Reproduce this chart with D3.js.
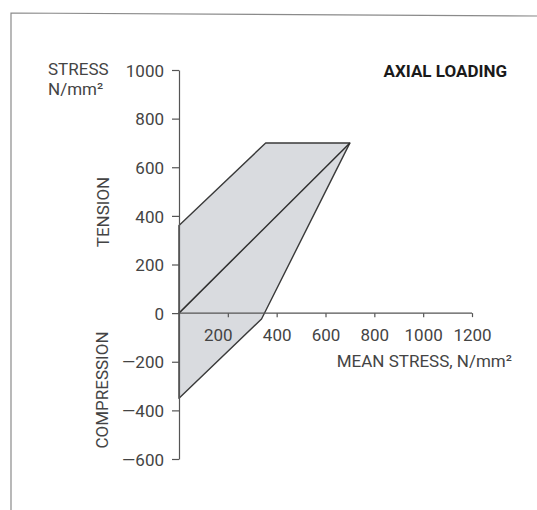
<!DOCTYPE html>
<html>
<head>
<meta charset="utf-8">
<script src="https://cdn.jsdelivr.net/npm/d3@7/dist/d3.min.js"></script>
<style>
  html, body { margin: 0; padding: 0; background: #fff; }
  svg { display: block; }
  text { font-family: Roboto, 'Liberation Sans', sans-serif; fill: #444; }
</style>
</head>
<body>
<svg id="chart" width="537" height="510"></svg>
<script>
// ---- data ----
const xTicks = [200, 400, 600, 800, 1000, 1200];
const yTicks = [1000, 800, 600, 400, 200, 0, -200, -400, -600];
// envelope of safe stress range (mean stress, stress)
const envelopeMean   = [0, 355, 700, 338, 0];
const envelopeStress = [360, 700, 700, -24, -350];
// mean stress line
const meanLineX = [0, 700];
const meanLineY = [0, 700];

const svg = d3.select("#chart");
const FONT = "Roboto, 'Liberation Sans', sans-serif";

// frame
svg.append("path")
  .attr("d", "M11,510 L11,13 L537,16")
  .attr("fill", "none").attr("stroke", "#8a8a8a").attr("stroke-width", 1.2);

const x = d3.scaleLinear().domain([0, 1200]).range([179, 472]);
const y = d3.scaleLinear().domain([-600, 1000]).range([459, 70]);

// envelope polygon
const pts = envelopeMean.map((m, i) => [x(m), y(envelopeStress[i])]);
svg.append("path")
  .attr("d", d3.line()(pts) + "Z")
  .attr("fill", "#d9dbdf")
  .attr("stroke", "#3a3a3a")
  .attr("stroke-width", 1.4)
  .attr("stroke-linejoin", "round");

// mean line
svg.append("path")
  .attr("d", d3.line()(meanLineX.map((m, i) => [x(m), y(meanLineY[i])])))
  .attr("stroke", "#2e2e2e").attr("stroke-width", 1.5).attr("fill", "none");

// y axis
const fmtY = v => v < 0 ? "\u2014" + Math.abs(v) : String(v);
const yAxis = svg.append("g")
  .attr("transform", `translate(${x(0)},0)`)
  .call(d3.axisLeft(y).tickValues(yTicks).tickSize(7).tickSizeOuter(0).tickPadding(8).tickFormat(fmtY));
yAxis.selectAll("path, line").attr("stroke", "#555").attr("stroke-width", 1.2);
yAxis.selectAll("text")
  .attr("font-size", 17).attr("dy", "0.36em")
  .style("font-family", FONT).attr("fill", "#444");

// x axis
const xAxis = svg.append("g")
  .attr("transform", `translate(0,${y(0)})`)
  .call(d3.axisBottom(x).tickValues(xTicks).tickSize(4).tickSizeOuter(0).tickPadding(12).tickFormat(d => String(d)));
xAxis.select(".domain").attr("d", `M${x(0)},0H${x(1200)}`);
xAxis.selectAll("path, line").attr("stroke", "#555").attr("stroke-width", 1.2);
xAxis.selectAll("text")
  .attr("font-size", 17)
  .style("font-family", FONT).attr("fill", "#444");
xAxis.selectAll(".tick").filter(d => d === 200).select("text")
  .attr("dx", -10).attr("fill", "#222");

// labels
svg.append("text").attr("x", 48).attr("y", 75).attr("font-size", 17).text("STRESS");
svg.append("text").attr("x", 48).attr("y", 95).attr("font-size", 17).text("N/mm\u00B2");

svg.append("text")
  .attr("transform", `translate(109,212) rotate(-90)`)
  .attr("text-anchor", "middle").attr("font-size", 17).text("TENSION");
svg.append("text")
  .attr("transform", `translate(108,390) rotate(-90)`)
  .attr("text-anchor", "middle").attr("font-size", 17).text("COMPRESSION");

svg.append("text").attr("x", 512).attr("y", 367).attr("text-anchor", "end")
  .attr("font-size", 17).text("MEAN STRESS, N/mm\u00B2");

svg.append("text").attr("x", 507).attr("y", 77).attr("text-anchor", "end")
  .attr("font-size", 17).attr("font-weight", "bold").style("fill", "#1a1a1a")
  .text("AXIAL LOADING");
</script>
</body>
</html>
